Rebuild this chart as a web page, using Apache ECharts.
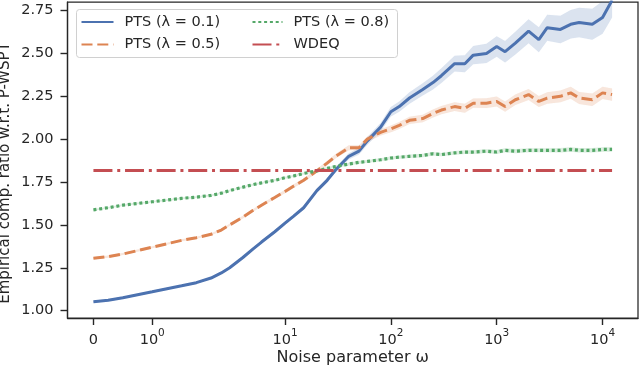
<!DOCTYPE html>
<html>
<head>
<meta charset="utf-8">
<script src="https://cdn.jsdelivr.net/npm/echarts@6/dist/echarts.min.js"></script>
<style>
  html, body { margin: 0; padding: 0; background: #fff; }
  #main { width: 640px; height: 368px; }
</style>
</head>
<body>
<div id="main"></div>
<script>
// noise parameter values (x)
const omega = [0, 0.25, 0.5, 0.75, 1, 1.25, 1.5, 1.75, 2, 2.5, 3, 4, 5, 6, 8,
  10, 12, 15, 20, 25, 30, 40, 50, 60, 80,
  100, 120, 150, 200, 250, 300, 400, 500, 600, 800,
  1000, 1200, 1500, 2000, 2500, 3000, 4000, 5000, 6000, 8000, 10000, 12300]

const pts01 = [1.052, 1.060, 1.075, 1.093, 1.110, 1.128, 1.145, 1.163, 1.190, 1.220, 1.250, 1.310, 1.360, 1.400, 1.460,
  1.510, 1.550, 1.600, 1.700, 1.760, 1.820, 1.900, 1.930, 1.990, 2.070,
  2.160, 2.190, 2.240, 2.290, 2.330, 2.370, 2.440, 2.440, 2.490, 2.500,
  2.540, 2.510, 2.560, 2.630, 2.580, 2.650, 2.640, 2.670, 2.680, 2.670, 2.710, 2.810]
const pts01Err = [0.006, 0.006, 0.006, 0.006, 0.006, 0.006, 0.006, 0.006, 0.006, 0.007, 0.007, 0.008, 0.008, 0.008, 0.009,
  0.010, 0.010, 0.011, 0.012, 0.013, 0.015, 0.018, 0.020, 0.022, 0.025,
  0.028, 0.030, 0.033, 0.036, 0.040, 0.043, 0.046, 0.050, 0.053, 0.056,
  0.060, 0.063, 0.066, 0.070, 0.073, 0.076, 0.080, 0.083, 0.086, 0.090, 0.095, 0.100]

const pts05 = [1.305, 1.315, 1.330, 1.350, 1.370, 1.390, 1.410, 1.425, 1.445, 1.470, 1.500, 1.545, 1.585, 1.615, 1.660,
  1.695, 1.725, 1.760, 1.815, 1.860, 1.900, 1.950, 1.950, 2.000, 2.040,
  2.060, 2.080, 2.110, 2.120, 2.150, 2.170, 2.190, 2.180, 2.210, 2.210,
  2.220, 2.190, 2.230, 2.260, 2.220, 2.240, 2.250, 2.270, 2.240, 2.230, 2.270, 2.260]
const pts05Err = [0.006, 0.006, 0.006, 0.006, 0.006, 0.006, 0.006, 0.006, 0.006, 0.007, 0.007, 0.008, 0.008, 0.008, 0.009,
  0.010, 0.010, 0.010, 0.011, 0.012, 0.013, 0.014, 0.015, 0.016, 0.018,
  0.019, 0.020, 0.021, 0.022, 0.023, 0.024, 0.025, 0.026, 0.027, 0.028,
  0.029, 0.030, 0.031, 0.032, 0.032, 0.033, 0.034, 0.035, 0.035, 0.036, 0.036, 0.036]

const pts08 = [1.588, 1.600, 1.615, 1.625, 1.635, 1.645, 1.655, 1.662, 1.672, 1.685, 1.700, 1.720, 1.735, 1.745, 1.760,
  1.775, 1.785, 1.800, 1.815, 1.830, 1.840, 1.855, 1.865, 1.870, 1.880,
  1.890, 1.895, 1.900, 1.905, 1.915, 1.910, 1.920, 1.925, 1.925, 1.930,
  1.925, 1.935, 1.930, 1.935, 1.935, 1.935, 1.935, 1.940, 1.935, 1.935, 1.940, 1.940]
const pts08Err = [0.005, 0.005, 0.005, 0.005, 0.005, 0.005, 0.005, 0.005, 0.005, 0.005, 0.005, 0.005, 0.005, 0.005, 0.006,
  0.006, 0.006, 0.006, 0.007, 0.007, 0.007, 0.008, 0.008, 0.008, 0.009,
  0.009, 0.009, 0.010, 0.010, 0.010, 0.010, 0.011, 0.011, 0.011, 0.011,
  0.012, 0.012, 0.012, 0.012, 0.012, 0.012, 0.013, 0.013, 0.013, 0.013, 0.013, 0.013]

const wdeq = 1.817

const xTickValues = [0, 1, 10, 100, 1000, 10000]
const xTickLabels = ['{b|0}', '{b|10}{s|0}', '{b|10}{s|1}', '{b|10}{s|2}', '{b|10}{s|3}', '{b|10}{s|4}']
const yTickValues = [1.00, 1.25, 1.50, 1.75, 2.00, 2.25, 2.50, 2.75]

const names = ['PTS (λ = 0.1)', 'PTS (λ = 0.5)', 'PTS (λ = 0.8)', 'WDEQ']
const colors = ['#4c72b0', '#dd8452', '#55a868', '#c44e52']

// matplotlib symlog scale (linthresh 2, linscale 1)
const LT = 2, LS = 1 / (1 - 1 / 10)
function symlog(x) {
  return x <= LT ? x * LS : LT * (LS + Math.log10(x / LT))
}

const FONT = 'DejaVu Sans'
const INK = '#262626'
const X_MIN = -0.49, X_MAX = 10.29, Y_MIN = 0.957, Y_MAX = 2.80

const pairs = (vals) => omega.map((w, i) => [symlog(w), vals[i]])

// shaded band drawn as one polygon through the axes' own scales
function band(vals, err, color, key) {
  return {
    name: key, type: 'custom', silent: true, clip: true,
    data: omega.map((w, i) => [symlog(w), vals[i] - err[i], vals[i] + err[i]]),
    encode: { x: 0, y: [1, 2] },
    renderItem: (params, api) => {
      if (params.dataIndex !== 0) return null
      const up = [], lo = []
      omega.forEach((w, i) => {
        up.push(api.coord([symlog(w), vals[i] + err[i]]))
        lo.push(api.coord([symlog(w), vals[i] - err[i]]))
      })
      return {
        type: 'polygon',
        shape: { points: up.concat(lo.reverse()) },
        style: { fill: color, opacity: 0.2, stroke: color, lineWidth: 0.6, strokeOpacity: 0.15 }
      }
    }
  }
}

const axisLine = { show: true, onZero: false, lineStyle: { color: INK, width: 1.25 } }
const axisTick = (vals) => ({ show: true, length: 7, lineStyle: { color: INK, width: 1.4 }, customValues: vals })

const chart = echarts.init(document.getElementById('main'))
chart.setOption({
  animation: false,
  textStyle: { fontFamily: FONT },
  grid: {
    left: 67.5, right: 2, top: 2, bottom: 50, outerBoundsMode: 'none', containLabel: false,
    show: true, borderColor: INK, borderWidth: 1.25
  },
  graphic: [{
    type: 'rect', z: 100,
    shape: { x: 76.5, y: 9.5, width: 321, height: 48, r: 3 },
    style: { fill: 'rgba(255,255,255,0.8)', stroke: '#d0d0d0', lineWidth: 1 }
  }],
  legend: [
    {
      data: [names[0], names[1]], orient: 'vertical', left: 80.5, top: 14.5, padding: 0,
      itemWidth: 32, itemHeight: 14, itemGap: 7.5, z: 101,
      lineStyle: { width: 2 }, itemStyle: { opacity: 0 },
      textStyle: { fontFamily: FONT, fontSize: 14.5, color: INK, padding: [0, 0, 0, 6] }
    },
    {
      data: [names[2], names[3]], orient: 'vertical', left: 251.5, top: 14.5, padding: 0,
      itemWidth: 30, itemHeight: 14, itemGap: 7.5, z: 101,
      lineStyle: { width: 2 }, itemStyle: { opacity: 0 },
      textStyle: { fontFamily: FONT, fontSize: 14.5, color: INK, padding: [0, 0, 0, 6] }
    }
  ],
  xAxis: {
    type: 'value', min: X_MIN, max: X_MAX,
    name: 'Noise parameter ω', nameLocation: 'middle', nameGap: 32, nameMoveOverlap: false,
    nameTextStyle: { fontFamily: FONT, fontSize: 16, color: INK },
    splitLine: { show: false },
    axisLine: axisLine,
    axisTick: axisTick(xTickValues.map(symlog)),
    axisLabel: {
      fontFamily: FONT, fontSize: 14.5, color: INK, margin: 10,
      customValues: xTickValues.map(symlog),
      formatter: (v) => {
        const i = xTickValues.findIndex(t => Math.abs(symlog(t) - v) < 1e-6)
        return i >= 0 ? xTickLabels[i] : ''
      },
      rich: {
        b: { fontFamily: FONT, fontSize: 14.5, color: INK, lineHeight: 20, verticalAlign: 'bottom' },
        s: { fontFamily: FONT, fontSize: 10.5, color: INK, lineHeight: 20, verticalAlign: 'top' }
      }
    }
  },
  yAxis: {
    type: 'value', min: Y_MIN, max: Y_MAX,
    name: 'Empirical comp. ratio w.r.t. P-WSPT', nameLocation: 'middle', nameGap: 55, nameMoveOverlap: false,
    nameTextStyle: { fontFamily: FONT, fontSize: 15, color: INK, padding: [0, 26, 0, 0] },
    splitLine: { show: false },
    axisLine: axisLine,
    axisTick: axisTick(yTickValues),
    axisLabel: {
      fontFamily: FONT, fontSize: 14.5, color: INK, margin: 14,
      customValues: yTickValues,
      formatter: (v) => v.toFixed(2)
    }
  },
  series: [
    band(pts01, pts01Err, colors[0], 'b1'),
    {
      name: names[0], type: 'line', symbol: 'none', data: pairs(pts01),
      lineStyle: { color: colors[0], width: 3 }, itemStyle: { color: colors[0] }
    },
    band(pts05, pts05Err, colors[1], 'b2'),
    {
      name: names[1], type: 'line', symbol: 'none', data: pairs(pts05),
      lineStyle: { color: colors[1], width: 3, type: [11, 4.8] }, itemStyle: { color: colors[1] }
    },
    band(pts08, pts08Err, colors[2], 'b3'),
    {
      name: names[2], type: 'line', symbol: 'none', data: pairs(pts08),
      lineStyle: { color: colors[2], width: 3.2, type: [3, 2.8] }, itemStyle: { color: colors[2] }
    },
    {
      name: names[3], type: 'line', symbol: 'none',
      data: [[symlog(omega[0]), wdeq], [symlog(omega[omega.length - 1]), wdeq]],
      lineStyle: { color: colors[3], width: 3, type: [19, 4.8, 3, 4.8] }, itemStyle: { color: colors[3] }
    }
  ]
})
</script>
</body>
</html>
